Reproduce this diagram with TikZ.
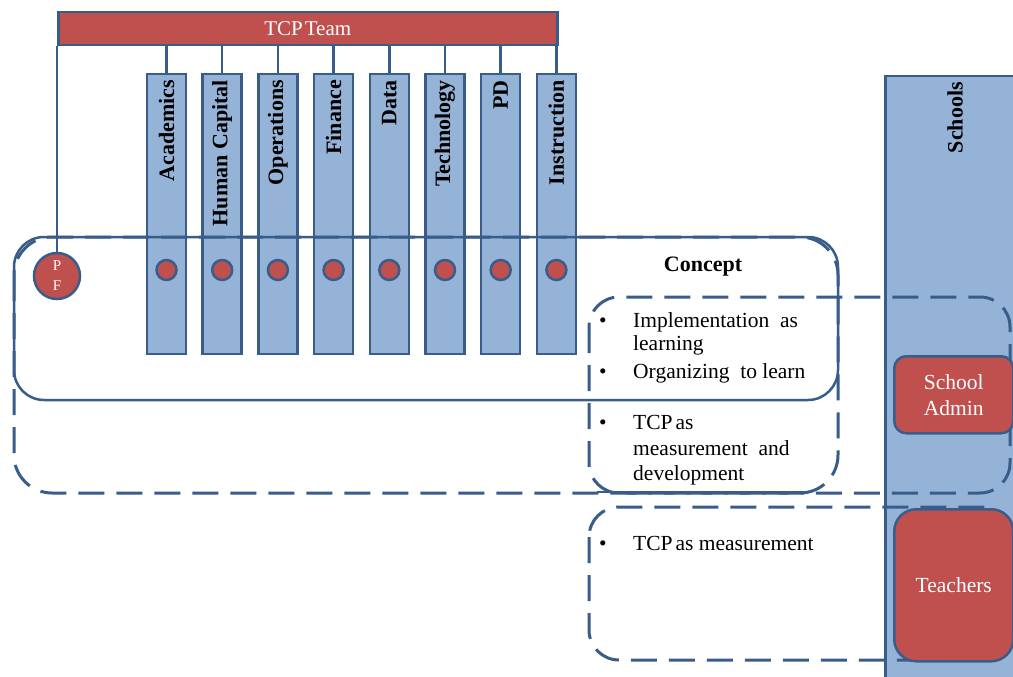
\documentclass[tikz,border=0pt]{standalone}
\usepackage{fontspec}
\setmainfont{Liberation Serif}
\definecolor{dkblue}{HTML}{385D8A}
\definecolor{ltblue}{HTML}{95B3D7}
\definecolor{tred}{HTML}{C0504D}
\tikzset{
  colbox/.style={draw=dkblue, fill=ltblue, line width=2.5pt, minimum width=39pt, minimum height=280pt, inner sep=0pt},
  collabel/.style={rotate=90, anchor=east, font=\fontsize{22}{24}\selectfont\bfseries, inner sep=0pt},
  reddot/.style={circle, draw=dkblue, fill=tred, line width=2.5pt, minimum size=20pt, inner sep=0pt},
  redbox/.style={draw=dkblue, fill=tred, line width=2.5pt, text=white, inner sep=0pt, align=center},
  dashbox/.style={draw=dkblue, line width=3pt, dash pattern=on 26pt off 12pt},
  solidbox/.style={draw=dkblue, line width=2.5pt},
  link/.style={draw=dkblue, line width=2.5pt},
  txt/.style={anchor=base west, inner sep=0pt},
  bul/.style={anchor=base, inner sep=0pt}
}
\begin{document}
\begin{tikzpicture}[x=1pt, y=-1pt, font=\fontsize{21.5}{25}\selectfont]
\useasboundingbox (0,0) rectangle (1013,677);
\fill[white] (0,0) rectangle (1013,677);

% Schools column
\node[draw=dkblue, fill=ltblue, line width=2.5pt, minimum width=146pt, minimum height=615pt, inner sep=0pt, anchor=north west] (schools) at (884,75) {};
\node[collabel] (schoolslbl) at (955,82) {Schools};

% TCP Team bar
\node[draw=dkblue, fill=tred, line width=2.5pt, minimum width=499pt, minimum height=33pt, inner sep=0pt, anchor=north west, text=white, font=\fontsize{21}{24}\selectfont] (team) at (57,11) {TCP\hspace{2pt}Team};

% columns
\foreach \i/\name in {0/Academics,1/Human Capital,2/Operations,3/Finance,4/Data,5/Technology,6/PD,7/Instruction}{
  \pgfmathsetmacro{\cx}{166.5+55.7*\i}
  \node[colbox] (c\i) at (\cx,214) {};
  \draw[link] (team.south -| c\i) -- (c\i.north);
  \node[collabel] (l\i) at (\cx,80) {\name};
}

% PF circle
\node[circle, draw=dkblue, fill=tred, line width=2.5pt, minimum size=46pt, inner sep=0pt, text=white, font=\fontsize{15}{20}\selectfont, align=center] (pf) at (57,276) {P\\F};
\draw[link] (team.south west) -- (pf.north);

% regions
\draw[solidbox, rounded corners=30pt] (14,237) rectangle (838,400);
\draw[dashbox, rounded corners=38pt] (14,237) rectangle (838,493);
\draw[dashbox, rounded corners=30pt] (589,297) rectangle (1010,493);
\draw[dashbox, rounded corners=30pt] (589,507) rectangle (1010,660);
\coordinate (sl) at (597,492);
\coordinate (sr) at (810,492);
\draw[link] (sl) -- (sr);

% dots
\foreach \i in {0,...,7}{
  \node[reddot] (d\i) at (c\i.center |- 0,270) {};
}

% red boxes
\node[redbox, rounded corners=12pt, minimum width=119pt, minimum height=77pt, anchor=north west, font=\fontsize{21.5}{26}\selectfont] (admin) at (893,355) {School\\Admin};
\node[redbox, rounded corners=22pt, minimum width=119pt, minimum height=152pt, anchor=north west] (teachers) at (893,508) {Teachers};

% texts
\node[inner sep=0pt, font=\fontsize{22}{24}\selectfont\bfseries] (concept) at (703,267) {Concept};
\node[bul] (b1) at (603,327) {•};
\node[txt] (t1) at (633,327) {Implementation\ \ as};
\node[txt] (t2) at (633,350) {learning};
\node[bul] (b2) at (603,378) {•};
\node[txt] (t3) at (633,378) {Organizing\ \ to learn};
\node[bul] (b3) at (603,429) {•};
\node[txt] (t4) at (633,429) {TCP\hspace{3pt}as};
\node[txt] (t5) at (633,455) {measurement\ \ and};
\node[txt] (t6) at (633,480) {development};
\node[bul] (b4) at (603,550) {•};
\node[txt] (t7) at (633,550) {TCP\hspace{3pt}as measurement};
\end{tikzpicture}
\end{document}
